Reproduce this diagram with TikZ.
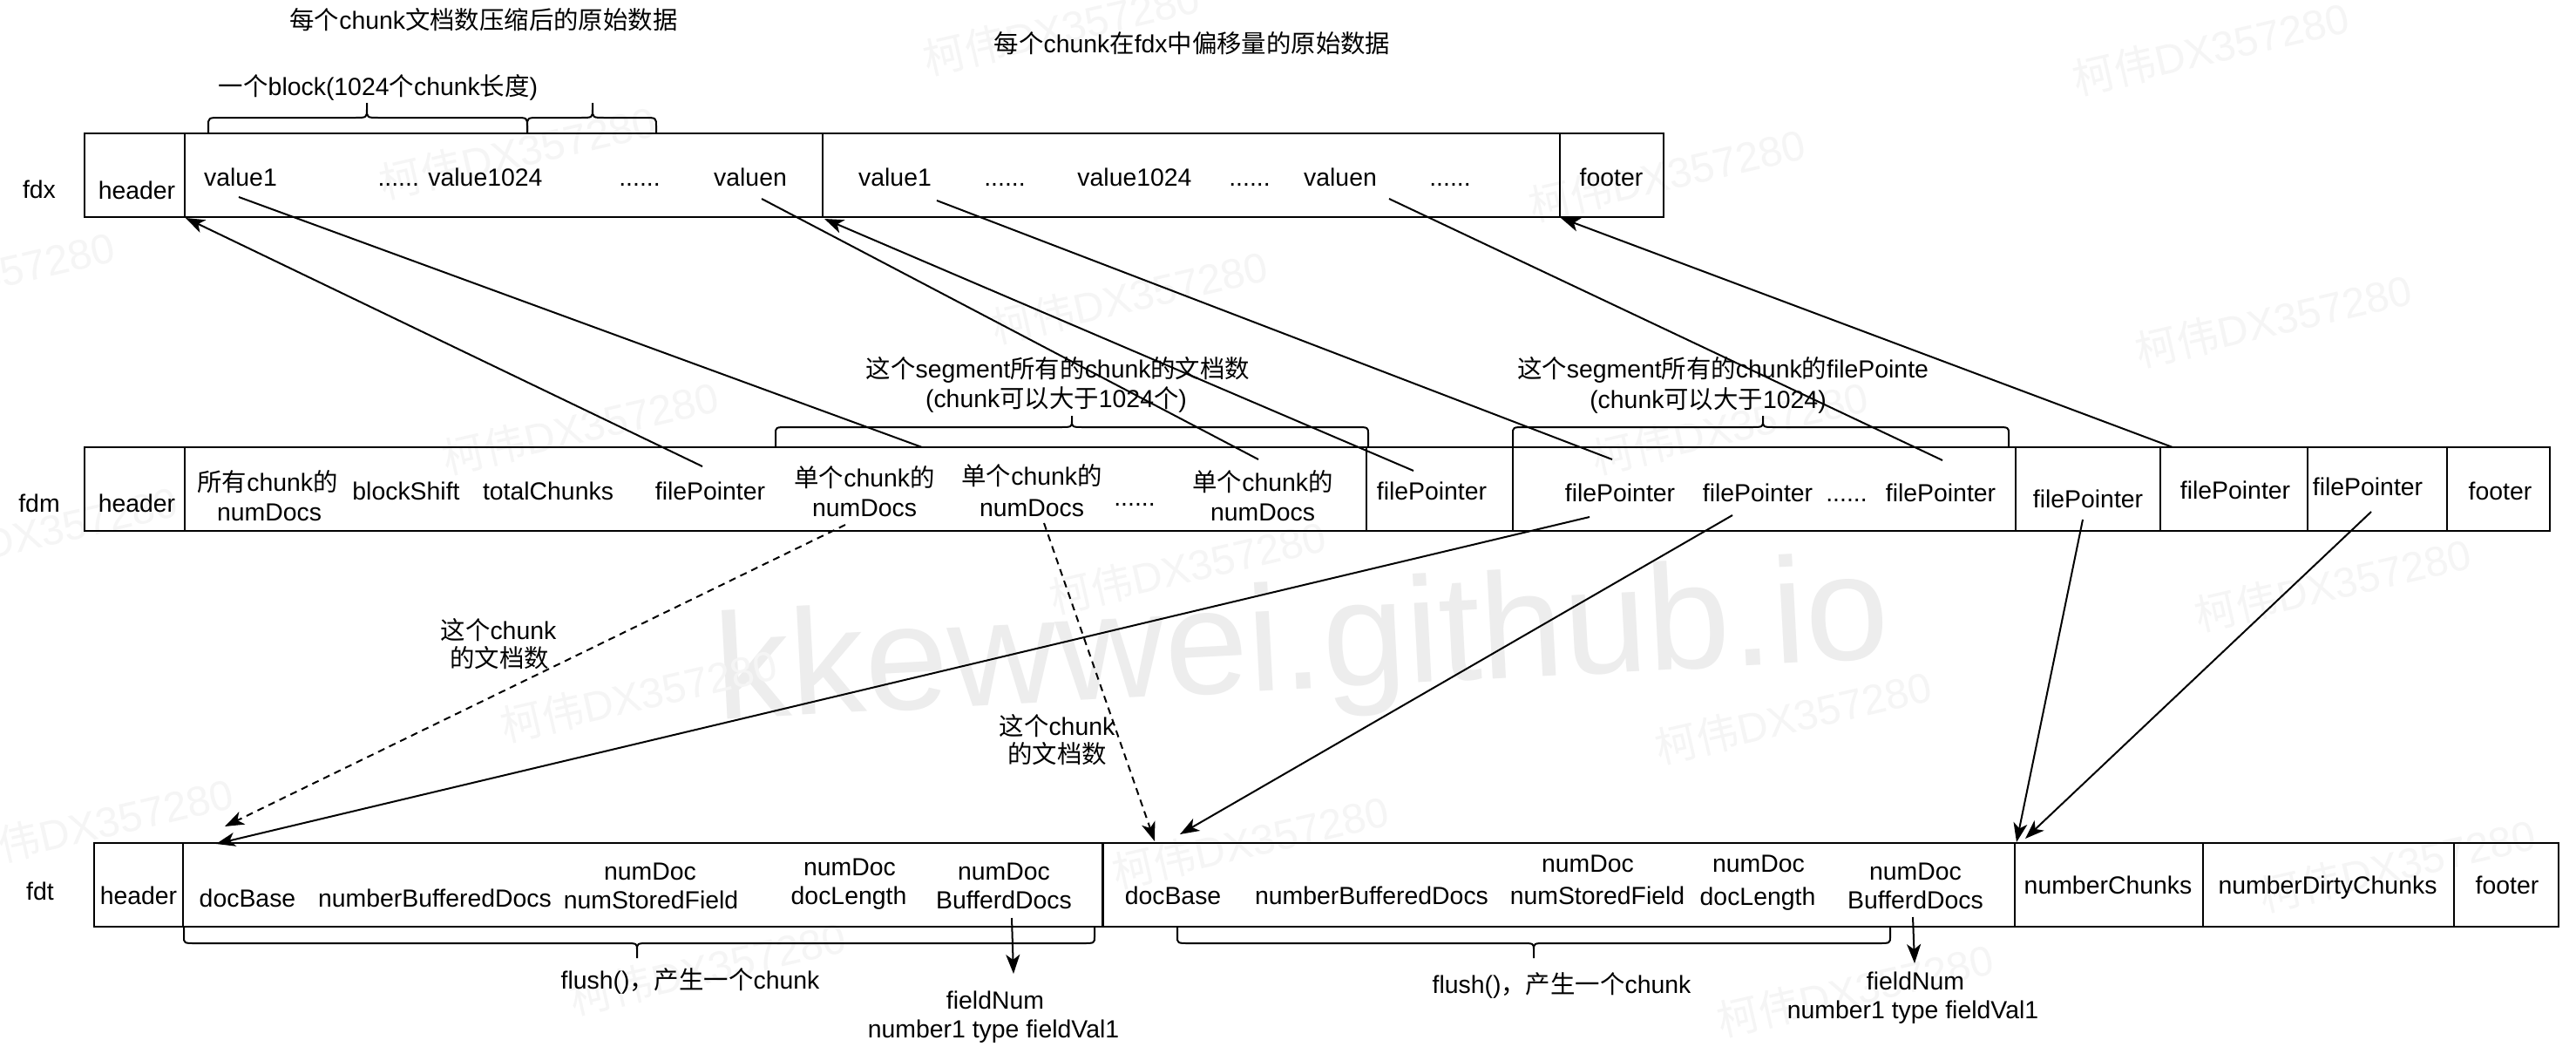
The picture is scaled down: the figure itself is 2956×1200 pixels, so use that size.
\documentclass[tikz,border=0pt]{standalone}
\usepackage{fontspec}
\setmainfont{Liberation Sans}
\newfontfamily\cjk{Noto Sans CJK SC}
\newcommand\zh[1]{{\cjk #1}}
\usetikzlibrary{arrows.meta}

% curly brace: x1, x tip, x2, y of the ends, y of the body, y of the tip, signed bend (towards the tip)
\newcommand\curly[7]{%
  \draw[brace] (#1,#4) -- ({#1},{#5-(#7)}) .. controls (#1,#5) .. ({#1+14},#5)
    -- ({#2-14},#5) .. controls (#2,#5) .. ({#2},{#5+(#7)}) -- (#2,#6)
    -- ({#2},{#5+(#7)}) .. controls (#2,#5) .. ({#2+14},#5)
    -- ({#3-14},#5) .. controls (#3,#5) .. ({#3},{#5-(#7)}) -- (#3,#4);}

\begin{document}
\begin{tikzpicture}[x=0.5pt,y=-0.5pt,
  every node/.style={inner sep=0pt, font=\fontsize{14.2pt}{17pt}\selectfont},
  lbl/.style={anchor=base},
  rowbox/.style={line width=1.1pt},
  divider/.style={line width=0.9pt},
  link/.style={line width=1pt},
  ptr/.style={line width=1pt, -{Stealth[length=11pt,width=8pt,inset=3pt]}},
  dptr/.style={ptr, dash pattern=on 4pt off 3pt},
  brace/.style={line width=1pt},
  wmark/.style={text=black!4, font=\fontsize{24pt}{24pt}\selectfont, rotate=13},
]
\useasboundingbox (0,0) rectangle (2956,1200);
\fill[white] (0,0) rectangle (2956,1200);

% ---------- background watermarks ----------
\node[anchor=base, text=black!7, font=\fontsize{86pt}{86pt}\selectfont, rotate=3] (wmbig) at (1497,790) {kkewwei.github.io};
\foreach \px/\py [count=\i] in {594/174, 666/490, 733/797, 812/1110,
    1913/200, 1985/490, 2058/822, 2129/1135,
    2537/55, 2609/367, 2677/670, 2751/992,
    1218/32, 1296/340, 1363/650, 1435/965,
    -27/318, 45/610, 109/945}
  \node[wmark] (wm\i) at (\px,\py) {\zh{柯伟}DX357280};

% ---------- titles ----------
\node[lbl] (title1) at (555,33) {\zh{每个}chunk\zh{文档数压缩后的原始数据}};
\node[lbl] (title2) at (1368,60) {\zh{每个}chunk\zh{在}fdx\zh{中偏移量的原始数据}};
\node[lbl] (blocklbl) at (434,109) {\zh{一个}block(1024\zh{个}chunk\zh{长度})};

% ---------- fdx ----------
\draw[rowbox] (97,153) rectangle (1909,249);
\foreach \dx in {212,944,1790} \draw[divider] (\dx,153) -- (\dx,249);
\node[lbl] (fdxname) at (45,227) {fdx};
\node[lbl] (fdxhead) at (157,228) {header};
\node[lbl] (xv1)  at (276,213) {value1};
\node[lbl] (xv1k) at (528,213) {...... value1024};
\node[lbl] (xdot1) at (734,213) {......};
\node[lbl] (xvn)  at (861,213) {valuen};
\node[lbl] (yv1)  at (1027,213) {value1};
\node[lbl] (ydot1) at (1153,213) {......};
\node[lbl] (yv1k) at (1302,213) {value1024};
\node[lbl] (ydot2) at (1434,213) {......};
\node[lbl] (yvn)  at (1538,213) {valuen};
\node[lbl] (ydot3) at (1664,213) {......};
\node[lbl] (fdxfoot) at (1849,213) {footer};
\curly{239}{421}{605}{153}{135}{118}{-10}
\curly{605}{680}{753}{153}{135}{118}{-10}

% ---------- fdm ----------
\draw[rowbox] (97,513) rectangle (2926,609);
\foreach \dx in {212,1568,1736,2313,2479,2648,2808} \draw[divider] (\dx,513) -- (\dx,609);
\node[lbl] (fdmname) at (45,587) {fdm};
\node[lbl] (fdmhead) at (157,587) {header};
\node[lbl] (mall1) at (307,563) {\zh{所有}chunk\zh{的}};
\node[lbl] (mall2) at (309,597) {numDocs};
\node[lbl] (mshift) at (466,573) {blockShift};
\node[lbl] (mtotal) at (629,573) {totalChunks};
\node[lbl] (mfp1) at (815,573) {filePointer};
\node[lbl] (mone1) at (992,558) {\zh{单个}chunk\zh{的}};
\node[lbl] (mnum1) at (992,592) {numDocs};
\node[lbl] (mone2) at (1184,556) {\zh{单个}chunk\zh{的}};
\node[lbl] (mnum2) at (1184,592) {numDocs};
\node[lbl] (mdots1) at (1302,580) {......};
\node[lbl] (mone3) at (1449,563) {\zh{单个}chunk\zh{的}};
\node[lbl] (mnum3) at (1449,597) {numDocs};
\node[lbl] (mfp2) at (1643,573) {filePointer};
\node[lbl] (mfg1) at (1859,575) {filePointer};
\node[lbl] (mfg2) at (2017,575) {filePointer};
\node[lbl] (mdots2) at (2119,575) {......};
\node[lbl] (mfg3) at (2227,575) {filePointer};
\node[lbl] (mfp3) at (2396,582) {filePointer};
\node[lbl] (mfp4) at (2565,572) {filePointer};
\node[lbl] (mfp5) at (2717,568) {filePointer};
\node[lbl] (fdmfoot) at (2869,573) {footer};
\curly{890}{1230}{1570}{513}{490}{477}{-8}
\curly{1736}{2023}{2305}{513}{490}{477}{-8}
\node[lbl] (seg1a) at (1214,433) {\zh{这个}segment\zh{所有的}chunk\zh{的文档数}};
\node[lbl] (seg1b) at (1212,467) {(chunk\zh{可以大于}1024\zh{个})};
\node[lbl] (seg2a) at (1977,433) {\zh{这个}segment\zh{所有的}chunk\zh{的}filePointe};
\node[lbl] (seg2b) at (1960,468) {(chunk\zh{可以大于}1024)};

% ---------- fdt ----------
\draw[rowbox] (108,967) rectangle (2936,1063);
\foreach \dx in {210,2312,2528,2816} \draw[divider] (\dx,967) -- (\dx,1063);
\draw[line width=1.5pt] (1265,967) -- (1265,1063);
\node[lbl] (fdtname) at (46,1032) {fdt};
\node[lbl] (fdthead) at (159,1037) {header};
\node[lbl] (tbase1) at (284,1040) {docBase};
\node[lbl] (tbuf1) at (499,1040) {numberBufferedDocs};
\node[lbl] (tnd1) at (746,1009) {numDoc};
\node[lbl] (tsf1) at (747,1042) {numStoredField};
\node[lbl] (tnd2) at (975,1004) {numDoc};
\node[lbl] (tdl1) at (974,1037) {docLength};
\node[lbl] (tnd3) at (1152,1009) {numDoc};
\node[lbl] (tbd1) at (1152,1042) {BufferdDocs};
\node[lbl] (tbase2) at (1346,1037) {docBase};
\node[lbl] (tbuf2) at (1574,1037) {numberBufferedDocs};
\node[lbl] (tnd4) at (1822,1000) {numDoc};
\node[lbl] (tsf2) at (1833,1037) {numStoredField};
\node[lbl] (tnd5) at (2018,1000) {numDoc};
\node[lbl] (tdl2) at (2017,1038) {docLength};
\node[lbl] (tnd6) at (2198,1009) {numDoc};
\node[lbl] (tbd2) at (2198,1042) {BufferdDocs};
\node[lbl] (tchunks) at (2419,1025) {numberChunks};
\node[lbl] (tdirty) at (2671,1025) {numberDirtyChunks};
\node[lbl] (fdtfoot) at (2877,1025) {footer};
\curly{211}{731}{1256}{1063}{1082}{1099}{8}
\curly{1351}{1760}{2169}{1063}{1082}{1099}{8}
\node[lbl] (flush1) at (792,1134) {flush()\zh{，产生一个}chunk};
\node[lbl] (flush2) at (1792,1139) {flush()\zh{，产生一个}chunk};
\node[lbl] (fnum1) at (1142,1157) {fieldNum};
\node[lbl] (fval1) at (1140,1190) {number1 type fieldVal1};
\node[lbl] (fnum2) at (2198,1135) {fieldNum};
\node[lbl] (fval2) at (2195,1168) {number1 type fieldVal1};

% labels of the dashed links
\node[lbl] (cnt1a) at (572,733) {\zh{这个}chunk};
\node[lbl] (cnt1b) at (573,765) {\zh{的文档数}};
\node[lbl] (cnt2a) at (1213,843) {\zh{这个}chunk};
\node[lbl] (cnt2b) at (1213,875) {\zh{的文档数}};

% ---------- link end points ----------
\coordinate (xA) at (213,250);
\coordinate (xB) at (946,251);
\coordinate (xC) at (1791,250);
\coordinate (xV1) at (274,226);
\coordinate (xVn) at (874,228);
\coordinate (xV1b) at (1075,230);
\coordinate (xVnb) at (1594,228);
\coordinate (mP1) at (806,535);
\coordinate (mP2) at (1622,540);
\coordinate (mTop) at (2493,513);
\coordinate (mN1) at (1058,513);
\coordinate (mN3) at (1444,527);
\coordinate (mG1) at (1850,527);
\coordinate (mG3) at (2229,528);
\coordinate (mD1) at (970,602);
\coordinate (mD2) at (1198,600);
\coordinate (mG1b) at (1824,593);
\coordinate (mG2b) at (1988,591);
\coordinate (mP3) at (2390,596);
\coordinate (mP4) at (2721,587);
\coordinate (tA) at (258,948);
\coordinate (tB) at (248,968);
\coordinate (tC) at (1325,965);
\coordinate (tD) at (1354,957);
\coordinate (tE) at (2314,966);
\coordinate (tF) at (2324,962);
\coordinate (bd1s) at (1161,1053);
\coordinate (bd1e) at (1163,1117);
\coordinate (bd2s) at (2195,1052);
\coordinate (bd2e) at (2197,1105);

% ---------- links fdm -> fdx ----------
\draw[ptr] (mP1) -- (xA);
\draw[ptr] (mP2) -- (xB);
\draw[ptr] (mTop) -- (xC);
\draw[link] (xV1) -- (mN1);
\draw[link] (xVn) -- (mN3);
\draw[link] (xV1b) -- (mG1);
\draw[link] (xVnb) -- (mG3);

% ---------- links fdm -> fdt ----------
\draw[dptr] (mD1) -- (tA);
\draw[dptr] (mD2) -- (tC);
\draw[ptr] (mG1b) -- (tB);
\draw[ptr] (mG2b) -- (tD);
\draw[ptr] (mP3) -- (tE);
\draw[ptr] (mP4) -- (tF);
\draw[ptr] (bd1s) -- (bd1e);
\draw[ptr] (bd2s) -- (bd2e);
\end{tikzpicture}
\end{document}
